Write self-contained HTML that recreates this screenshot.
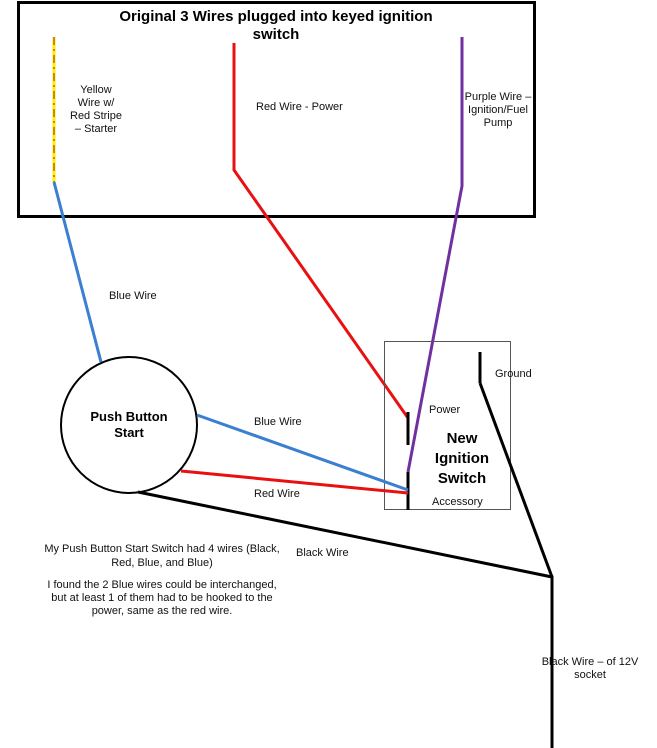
<!DOCTYPE html>
<html><head><style>
body{margin:0;background:#fff;}
svg{display:block;}
text{font-family:"Liberation Sans",Arial,sans-serif;}
.s{font-size:11px;fill:#111;}
.b{font-weight:bold;fill:#000;}
</style></head><body>
<svg width="657" height="748" viewBox="0 0 657 748">
<rect x="18.5" y="2.5" width="516" height="214" fill="none" stroke="#000" stroke-width="3"/>
<text class="b" x="276" y="21" font-size="15" text-anchor="middle">Original 3 Wires plugged into keyed ignition</text>
<text class="b" x="276" y="39" font-size="15" text-anchor="middle">switch</text>
<line x1="54" y1="37" x2="54" y2="182" stroke="#ffee00" stroke-width="3"/>
<line x1="54" y1="37" x2="54" y2="182" stroke="#a02020" stroke-width="1" stroke-dasharray="8,4,2,4"/>
<text class="s" text-anchor="middle"><tspan x="96" y="93">Yellow</tspan><tspan x="96" y="106">Wire w/</tspan><tspan x="96" y="119">Red Stripe</tspan><tspan x="96" y="132">– Starter</tspan></text>
<polyline points="54,182 101,362" fill="none" stroke="#3a7fd0" stroke-width="3"/>
<text class="s" x="109" y="299">Blue Wire</text>
<polyline points="234,43 234,170 408,418" fill="none" stroke="#e81010" stroke-width="3"/>
<text class="s" x="256" y="110">Red Wire - Power</text>
<polyline points="462,37 462,186 408,472" fill="none" stroke="#7030a0" stroke-width="3"/>
<text class="s" text-anchor="middle"><tspan x="498" y="100">Purple Wire –</tspan><tspan x="498" y="113">Ignition/Fuel</tspan><tspan x="498" y="126">Pump</tspan></text>
<rect x="384.5" y="341.5" width="126" height="168" fill="none" stroke="#555" stroke-width="1"/>
<line x1="408" y1="412" x2="408" y2="445" stroke="#000" stroke-width="3"/>
<line x1="408" y1="472" x2="408" y2="510" stroke="#000" stroke-width="3"/>
<line x1="480" y1="352" x2="480" y2="383" stroke="#000" stroke-width="3"/>
<text class="s" x="429" y="413">Power</text>
<text class="s" x="495" y="377">Ground</text>
<text class="s" x="432" y="505">Accessory</text>
<text class="b" font-size="15" text-anchor="middle"><tspan x="462" y="443">New</tspan><tspan x="462" y="463">Ignition</tspan><tspan x="462" y="483">Switch</tspan></text>
<circle cx="129" cy="425" r="68" fill="none" stroke="#000" stroke-width="2"/>
<text class="b" font-size="13" text-anchor="middle"><tspan x="129" y="421">Push Button</tspan><tspan x="129" y="437">Start</tspan></text>
<line x1="197" y1="415" x2="408" y2="490" stroke="#3a7fd0" stroke-width="3"/>
<text class="s" x="254" y="425">Blue Wire</text>
<line x1="181" y1="471" x2="408" y2="493" stroke="#e81010" stroke-width="3"/>
<text class="s" x="254" y="497">Red Wire</text>
<polyline points="138,492 552,577 552,748" fill="none" stroke="#000" stroke-width="3"/>
<line x1="480" y1="383" x2="552" y2="577" stroke="#000" stroke-width="3"/>
<text class="s" x="296" y="556">Black Wire</text>
<text class="s" text-anchor="middle"><tspan x="590" y="665">Black Wire – of 12V</tspan><tspan x="590" y="678">socket</tspan></text>
<text class="s" text-anchor="middle" font-size="10.5"><tspan x="162" y="552">My Push Button Start Switch had 4 wires (Black,</tspan><tspan x="162" y="566">Red, Blue, and Blue)</tspan><tspan x="162" y="588">I found the 2 Blue wires could be interchanged,</tspan><tspan x="162" y="601">but at least 1 of them had to be hooked to the</tspan><tspan x="162" y="614">power, same as the red wire.</tspan></text>
</svg>
</body></html>
